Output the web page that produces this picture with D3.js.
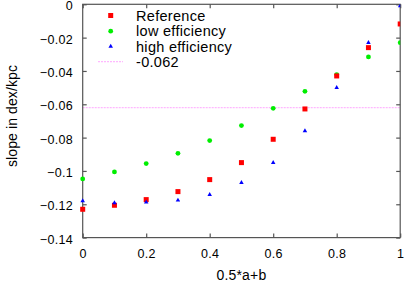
<!DOCTYPE html>
<html><head><meta charset="utf-8">
<script src="https://cdn.jsdelivr.net/npm/d3@7"></script>
<style>body{margin:0;background:#fff}svg{display:block}text{font-family:"Liberation Sans",Arial,sans-serif;fill:#000}</style>
</head><body><svg id="c" width="407" height="283"></svg>
<script>
const xVals = [0,0.1,0.2,0.3,0.4,0.5,0.6,0.7,0.8,0.9,1.0];
const reference = [-0.123,-0.1206,-0.1172,-0.1124,-0.1052,-0.095,-0.081,-0.0628,-0.043,-0.026,-0.0118];
const lowEff = [-0.1048,-0.1006,-0.0956,-0.0894,-0.0818,-0.0728,-0.0624,-0.0522,-0.0422,-0.0316,-0.023];
const highEff = [-0.118,-0.1192,-0.1188,-0.1176,-0.1142,-0.107,-0.095,-0.076,-0.050,-0.023,-0.001];
const refLine = -0.062;
const xTicks = [0,0.2,0.4,0.6,0.8,1];
const yTicks = [0,-0.02,-0.04,-0.06,-0.08,-0.1,-0.12,-0.14];
const legendLabels = ["Reference","low efficiency","high efficiency","-0.062"];

const svg = d3.select("#c");
const L=82.7,R=400.2,T=4.3,B=237.6;
const x = d3.scaleLinear().domain([0,1]).range([L,R]);
const y = d3.scaleLinear().domain([-0.14,0]).range([B,T]);
const axisColor="#555";
const lineColor="#ffb8ff";

// reference line
svg.append("line").attr("x1",L).attr("x2",R).attr("y1",y(refLine)).attr("y2",y(refLine))
  .attr("stroke",lineColor).attr("stroke-width",1.2).attr("stroke-dasharray","2,1");

// frame
svg.append("rect").attr("x",L).attr("y",T).attr("width",R-L).attr("height",B-T)
  .attr("fill","none").attr("stroke",axisColor).attr("stroke-width",1.2);

const tl=4;
function styleAxis(g){g.select(".domain").remove();g.selectAll(".tick line").attr("stroke",axisColor).attr("stroke-width",1.2);g.selectAll("text").attr("font-size","12.5px").attr("letter-spacing","0.3px").attr("font-family","Liberation Sans, Arial, sans-serif").attr("fill","#000");}
svg.append("g").attr("transform",`translate(0,${B})`).call(d3.axisBottom(x).tickValues(xTicks).tickFormat(d3.format("")).tickSizeInner(-tl).tickPadding(12)).call(styleAxis);
svg.append("g").attr("transform",`translate(0,${T})`).call(d3.axisTop(x).tickValues(xTicks).tickFormat("").tickSizeInner(-tl)).call(styleAxis);
svg.append("g").attr("transform",`translate(${L},1.5)`).call(d3.axisLeft(y).tickValues(yTicks).tickFormat(d=>d===0?"0":d3.format("")(+d.toFixed(2))).tickSizeInner(-tl).tickPadding(9.7)).call(styleAxis)
  .selectAll(".tick line").attr("transform","translate(0,-1.5)");
svg.append("g").attr("transform",`translate(${R},0)`).call(d3.axisRight(y).tickValues(yTicks).tickFormat("").tickSizeInner(-tl)).call(styleAxis);

// titles
svg.append("text").attr("x",(L+R)/2).attr("y",280).attr("text-anchor","middle").attr("font-size","14px").attr("letter-spacing","0.2px").text("0.5*a+b");
svg.append("text").attr("transform",`translate(17,116) rotate(-90)`).attr("text-anchor","middle").attr("font-size","14px").attr("letter-spacing","0.1px").text("slope in dex/kpc");

svg.append("defs").append("clipPath").attr("id","pc").append("rect").attr("x",L-4).attr("y",T).attr("width",R-L+4).attr("height",B-T+4);
const pts = svg.append("g").attr("clip-path","url(#pc)");
const tri = d3.symbol().type(d3.symbolTriangle).size(9);
pts.selectAll(".g").data(xVals).join("circle").attr("cx",d=>x(d)).attr("cy",(d,i)=>y(lowEff[i])).attr("r",2.4).attr("fill","#00ee00");
pts.selectAll(".r").data(xVals).join("rect").attr("x",d=>x(d)-2.5).attr("y",(d,i)=>y(reference[i])-2.5).attr("width",5).attr("height",5).attr("fill","#ff0000");
pts.selectAll(".b").data(xVals).join("path").attr("d",tri).attr("transform",(d,i)=>`translate(${x(d)},${y(highEff[i])})`).attr("fill","#0000ff");

// legend
const lg = svg.append("g");
const rows=[15.5,31.2,46.5,61.7];
const mx=110.7, tx=136;
lg.append("rect").attr("x",mx-2.5).attr("y",rows[0]-2.5).attr("width",5).attr("height",5).attr("fill","#ff0000");
lg.append("circle").attr("cx",mx).attr("cy",rows[1]).attr("r",2.4).attr("fill","#00ee00");
lg.append("path").attr("d",tri).attr("transform",`translate(${mx},${rows[2]})`).attr("fill","#0000ff");
lg.append("line").attr("x1",98).attr("x2",123).attr("y1",rows[3]).attr("y2",rows[3]).attr("stroke",lineColor).attr("stroke-width",1.2).attr("stroke-dasharray","2,1");
legendLabels.forEach((t,i)=>lg.append("text").attr("x",tx).attr("y",rows[i]+5.2).attr("font-size","14.5px").attr("letter-spacing","0.3px").text(t));
</script></body></html>
